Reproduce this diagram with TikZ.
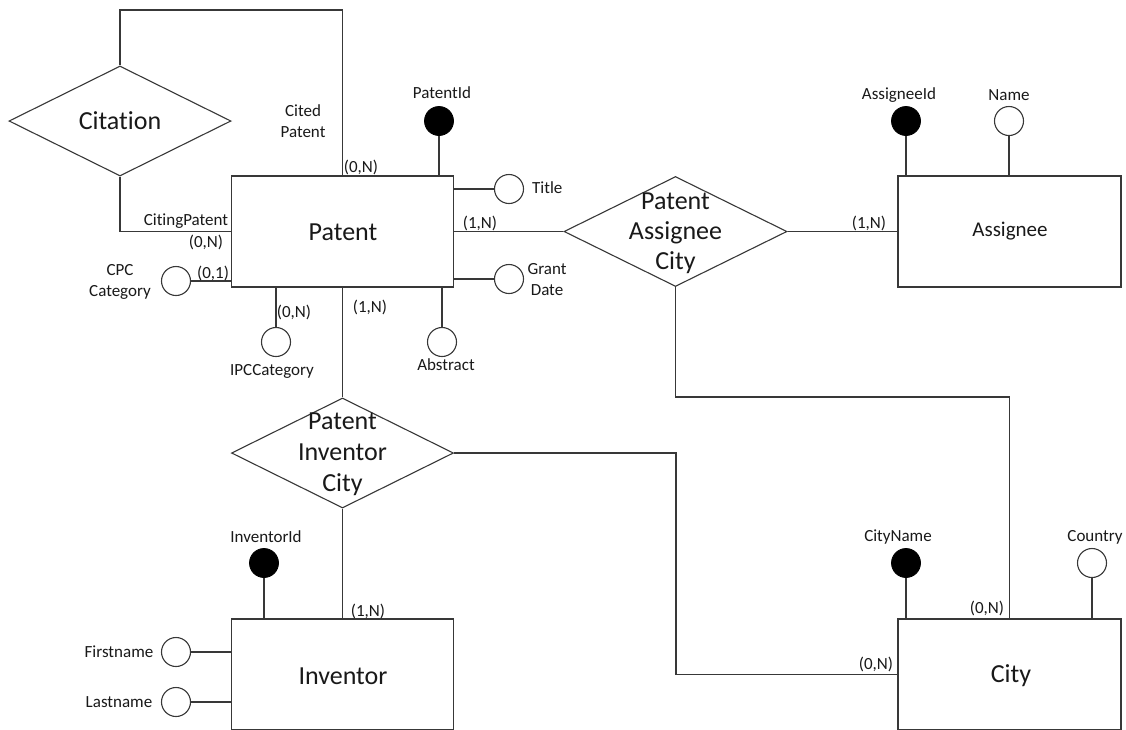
\documentclass[tikz,border=0pt]{standalone}
\usepackage{fontspec}
\setmainfont{Carlito}[Ligatures=NoCommon]
\usetikzlibrary{shapes.geometric}

\tikzset{
  conn/.style={draw=black!78, line width=1.1pt},
  entity/.style={rectangle, draw=black!78, line width=1.1pt, fill=white, inner sep=0pt,
                 minimum width=222pt, minimum height=111pt},
  relation/.style={diamond, aspect=2, draw=black!78, line width=1.1pt, fill=white, inner sep=0pt,
                   minimum width=222pt, minimum height=110pt},
  keyattr/.style={circle, fill=black, draw=black, line width=0.8pt, inner sep=0pt, minimum size=29pt},
  attr/.style={circle, fill=white, draw=black!78, line width=1.1pt, inner sep=0pt, minimum size=29pt},
  bigtext/.style={inner sep=0pt, align=center, text=black!90, font=\fontsize{26}{30}\selectfont},
  smalltext/.style={inner sep=0pt, align=center, text=black!90, font=\fontsize{17}{21}\selectfont},
}

\begin{document}
\begin{tikzpicture}[x=1pt, y=-1pt]
  \clip (0,0) rectangle (1126,729);
  \fill[white] (0,0) rectangle (1126,729);

  % entities
  \node[entity] (pat) at (342.5,231.5) {};
  \node[entity, minimum width=223pt] (asg) at (1009.5,231.5) {};
  \node[entity] (inv) at (342.5,674.5) {};
  \node[entity, minimum width=223pt] (city) at (1009.5,674.5) {};

  % relationships
  \node[relation] (cit) at (120,121) {};
  \node[relation, minimum width=223pt] (pac) at (675.5,231.5) {};
  \node[relation] (pic) at (342.5,453) {};

  % bend points of the routed connectors
  \coordinate (citTop) at (120,10);
  \coordinate (pacBend) at (675.5,397);
  \coordinate (picBend) at (676,453);

  % relationship connectors
  \draw[conn] (cit.north) -- (citTop) -| (pat.north);
  \draw[conn] (cit.south) |- (pat.west);
  \draw[conn] (pat.east) -- (pac.west);
  \draw[conn] (pac.east) -- (asg.west);
  \draw[conn] (pac.south) -- (pacBend) -| (city.north);
  \draw[conn] (pic.east) -- (picBend) |- (city.west);
  \draw[conn] (pat.south) -- (pic.north);
  \draw[conn] (pic.south) -- (inv.north);

  % Patent attributes
  \node[keyattr] (pid) at (439,121) {};
  \node[attr] (ptitle) at (509,189) {};
  \node[attr] (pgrant) at (509,279) {};
  \node[attr] (pabs) at (442,342) {};
  \node[attr] (pipc) at (276,342) {};
  \node[attr] (pcpc) at (176,281) {};
  \draw[conn] (pid.south) -- (pid.south |- pat.north);
  \draw[conn] (ptitle.west) -- (ptitle.west -| pat.east);
  \draw[conn] (pgrant.west) -- (pgrant.west -| pat.east);
  \draw[conn] (pabs.north) -- (pabs.north |- pat.south);
  \draw[conn] (pipc.north) -- (pipc.north |- pat.south);
  \draw[conn] (pcpc.east) -- (pcpc.east -| pat.west);

  % Assignee attributes
  \node[keyattr] (aid) at (906,121) {};
  \node[attr] (aname) at (1009,121) {};
  \draw[conn] (aid.south) -- (aid.south |- asg.north);
  \draw[conn] (aname.south) -- (aname.south |- asg.north);

  % Inventor attributes
  \node[keyattr] (iid) at (264,563) {};
  \node[attr] (ifirst) at (176,652) {};
  \node[attr] (ilast) at (176,702) {};
  \draw[conn] (iid.south) -- (iid.south |- inv.north);
  \draw[conn] (ifirst.east) -- (ifirst.east -| inv.west);
  \draw[conn] (ilast.east) -- (ilast.east -| inv.west);

  % City attributes
  \node[keyattr] (cname) at (906,563) {};
  \node[attr] (ccountry) at (1092,563) {};
  \draw[conn] (cname.south) -- (cname.south |- city.north);
  \draw[conn] (ccountry.south) -- (ccountry.south |- city.north);

  % entity and relationship names
  \node[bigtext] (patL) at (343,232) {Patent};
  \node[bigtext, font=\fontsize{21}{24}\selectfont] (asgL) at (1010,231) {Assignee};
  \node[bigtext] (invL) at (343,676) {Inventor};
  \node[bigtext] (cityL) at (1011,676) {City};
  \node[bigtext] (citL) at (120,121) {Citation};
  \node[bigtext] (pacL) at (675.5,233) {Patent\\Assignee\\City};
  \node[bigtext, font=\fontsize{26}{31}\selectfont] (picL) at (342.5,454) {Patent\\Inventor\\City};

  % attribute names
  \node[smalltext] (pidL) at (442,93) {PatentId};
  \node[smalltext, anchor=west] (ptitleL) at (532,188) {Title};
  \node[smalltext] (pgrantL) at (547,279.5) {Grant\\Date};
  \node[smalltext] (pabsL) at (446,365) {Abstract};
  \node[smalltext] (pipcL) at (272,371) {IPCCategory};
  \node[smalltext] (pcpcL) at (120,281.5) {CPC\\Category};
  \node[smalltext] (citedL) at (303,121.5) {Cited\\Patent};
  \node[smalltext] (citingL) at (186,221) {CitingPatent};
  \node[smalltext] (aidL) at (899,95) {AssigneeId};
  \node[smalltext] (anameL) at (1009,95) {Name};
  \node[smalltext] (iidL) at (266,537) {InventorId};
  \node[smalltext] (ifirstL) at (119,652) {Firstname};
  \node[smalltext] (ilastL) at (119,702) {Lastname};
  \node[smalltext] (cnameL) at (898,537) {CityName};
  \node[smalltext] (ccountryL) at (1095,537) {Country};

  % cardinalities
  \node[smalltext] (k1) at (361,167) {(0,N)};
  \node[smalltext] (k2) at (206,242) {(0,N)};
  \node[smalltext] (k3) at (213,273) {(0,1)};
  \node[smalltext] (k4) at (294,312) {(0,N)};
  \node[smalltext] (k5) at (370,307) {(1,N)};
  \node[smalltext] (k6) at (480,223) {(1,N)};
  \node[smalltext] (k7) at (869,223) {(1,N)};
  \node[smalltext] (k8) at (368,611) {(1,N)};
  \node[smalltext] (k9) at (876,664) {(0,N)};
  \node[smalltext] (k10) at (987,608) {(0,N)};
\end{tikzpicture}
\end{document}
